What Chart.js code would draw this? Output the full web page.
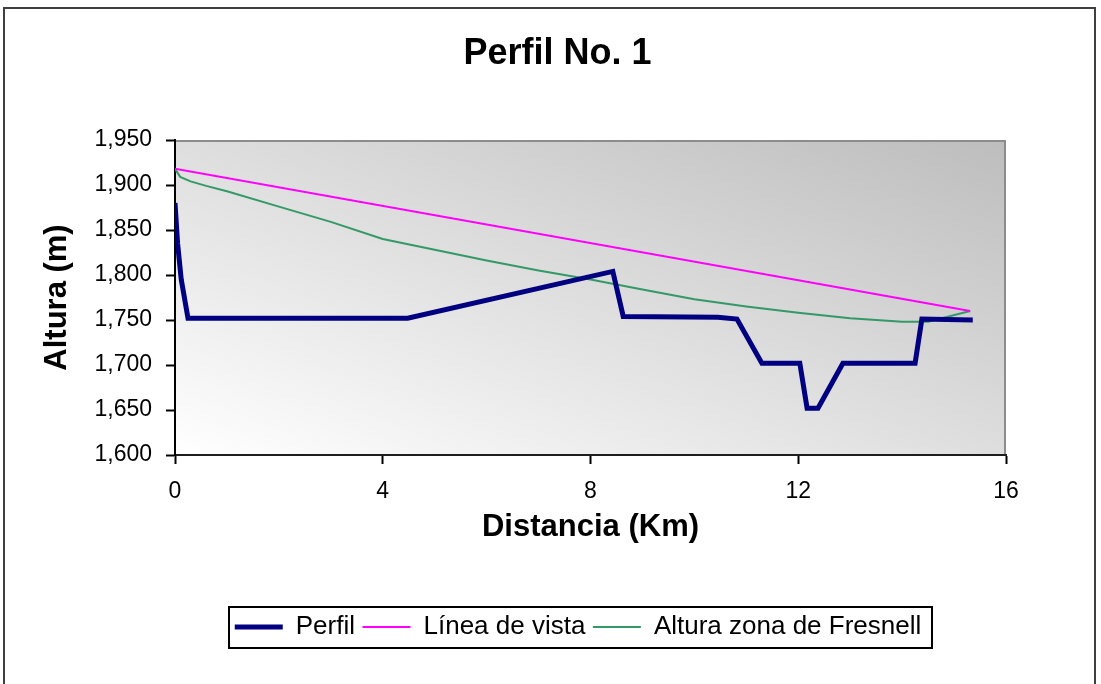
<!DOCTYPE html>
<html>
<head>
<meta charset="utf-8">
<script src="https://cdn.jsdelivr.net/npm/chart.js@4.4.1/dist/chart.umd.min.js"></script>
<style>
  html, body { margin: 0; padding: 0; background: #fff; }
  canvas { display: block; }
</style>
</head>
<body>
<canvas id="perfil" width="1101" height="684"></canvas>
<script>
// Terrain profile (distance in km, height in m)
const perfilKm  = [0, 0.05, 0.12, 0.25, 4.48, 8.43, 8.63, 10.45, 10.82, 11.30, 12.03, 12.17, 12.38, 12.86, 14.25, 14.38, 15.36];
const perfilAlt = [1880, 1835, 1795, 1752, 1752, 1804, 1754, 1753, 1751, 1702, 1702, 1652, 1652, 1702, 1702, 1751, 1750];

// Line of sight between both antennas
const vistaKm  = [0, 15.31];
const vistaAlt = [1918, 1760];

// Height of the Fresnel zone clearance
const fresnelKm  = [0, 0.1, 0.3, 0.6, 1, 2, 3, 4, 5, 6, 7, 8, 9, 10, 11, 12, 13, 14, 14.5, 15.31];
const fresnelAlt = [1918, 1909, 1904, 1899, 1893, 1876, 1859, 1840, 1828, 1816, 1805, 1795, 1784, 1773, 1765, 1758, 1752, 1748, 1748, 1760];

const seriesNames = ['Perfil', 'Línea de vista', 'Altura zona de Fresnell'];
const chartTitle = 'Perfil No. 1';
const xTitle = 'Distancia (Km)';
const yTitle = 'Altura (m)';

const FONT = "'Liberation Sans', Arial, sans-serif";
const pairs = (xs, ys) => xs.map((x, i) => ({ x, y: ys[i] }));

// Background gradient, outer frame, plot border, and legend box
const framePlugin = {
  id: 'frame',
  afterLayout(chart) {
    const t = chart.titleBlock;
    if (t) {
      const dx = 557.5 - (t.left + t.right) / 2;
      t.left += dx; t.right += dx;
    }
    const lg = chart.legend;
    if (lg) {
      const dx = 578 - (lg.left + lg.right) / 2;
      lg.left += dx; lg.right += dx;
      const h = lg.bottom - lg.top;
      lg.top = 606.5; lg.bottom = lg.top + h;
    }
  },
  beforeDraw(chart) {
    const { ctx, chartArea: a } = chart;
    ctx.save();
    ctx.fillStyle = '#ffffff';
    ctx.fillRect(0, 0, chart.width, chart.height);
    ctx.strokeStyle = '#3f3f3f';
    ctx.lineWidth = 2;
    ctx.strokeRect(4, 8, 1091, 700);

    const w = a.right - a.left, h = a.bottom - a.top;
    const cx = (a.left + a.right) / 2, cy = (a.top + a.bottom) / 2;
    const len = Math.hypot(w, h);
    const ux = -h / len, uy = w / len;
    const half = w * h / len;
    const g = ctx.createLinearGradient(cx - ux * half, cy - uy * half, cx + ux * half, cy + uy * half);
    g.addColorStop(0, '#bdbdbd');
    g.addColorStop(1, '#ffffff');
    ctx.fillStyle = g;
    ctx.fillRect(a.left, a.top, w, h);

    ctx.strokeStyle = '#8c8c8c';
    ctx.lineWidth = 2;
    ctx.beginPath();
    ctx.moveTo(a.left, a.top + 1);
    ctx.lineTo(a.right - 1, a.top + 1);
    ctx.lineTo(a.right - 1, a.bottom);
    ctx.stroke();
    ctx.restore();
  },
  afterDraw(chart) {
    const lg = chart.legend;
    if (!lg) return;
    const { ctx } = chart;
    const cx = (lg.left + lg.right) / 2;
    const mid = lg.top + lg.options.labels.padding + lg.options.labels.font.size / 2;
    ctx.save();
    ctx.strokeStyle = '#000';
    ctx.lineWidth = 2;
    ctx.strokeRect(cx - 349, mid - 20, 703, 41);
    ctx.restore();
  }
};

new Chart(document.getElementById('perfil'), {
  type: 'line',
  data: {
    datasets: [
      {
        label: seriesNames[0],
        data: pairs(perfilKm, perfilAlt),
        borderColor: '#000080',
        backgroundColor: '#000080',
        borderWidth: 5,
        pointRadius: 0,
        tension: 0
      },
      {
        label: seriesNames[1],
        data: pairs(vistaKm, vistaAlt),
        borderColor: '#ff00ff',
        backgroundColor: '#ff00ff',
        borderWidth: 2,
        pointRadius: 0,
        tension: 0
      },
      {
        label: seriesNames[2],
        data: pairs(fresnelKm, fresnelAlt),
        borderColor: '#339966',
        backgroundColor: '#339966',
        borderWidth: 2,
        pointRadius: 0,
        tension: 0
      }
    ]
  },
  options: {
    responsive: false,
    animation: false,
    locale: 'en-US',
    layout: { padding: { left: 0, right: 95, top: 0, bottom: 90.5 } },
    plugins: {
      tooltip: { enabled: false },
      title: {
        display: true,
        text: chartTitle,
        color: '#000',
        font: { family: FONT, size: 36, weight: 'bold', lineHeight: 1.2 },
        padding: { top: 32, bottom: 64.8 }
      },
      legend: {
        display: true,
        position: 'bottom',
        labels: {
          color: '#000',
          font: { family: FONT, size: 26 },
          usePointStyle: true,
          pointStyle: 'line',
          pointStyleWidth: 48,
          padding: 7.5
        }
      }
    },
    scales: {
      x: {
        type: 'linear',
        min: 0,
        max: 16,
        afterFit(scale) { scale.height = 95; },
        ticks: {
          stepSize: 4,
          color: '#000',
          padding: 14,
          font: { family: FONT, size: 23 }
        },
        grid: {
          display: true,
          drawOnChartArea: false,
          drawTicks: true,
          tickLength: 9,
          tickWidth: 2,
          tickColor: '#000'
        },
        border: { display: true, color: '#1e1e1e', width: 2 },
        title: {
          display: true,
          text: xTitle,
          color: '#000',
          font: { family: FONT, size: 31, weight: 'bold', lineHeight: 1.2 },
          padding: { top: 2, bottom: 4 }
        }
      },
      y: {
        type: 'linear',
        min: 1600,
        max: 1950,
        afterFit(scale) { scale.width = 175; },
        ticks: {
          stepSize: 50,
          color: '#000',
          padding: 14,
          font: { family: FONT, size: 23 }
        },
        grid: {
          display: true,
          drawOnChartArea: false,
          drawTicks: true,
          tickLength: 9,
          tickWidth: 2,
          tickColor: '#000'
        },
        border: { display: true, color: '#000', width: 2 },
        title: {
          display: true,
          text: yTitle,
          color: '#000',
          font: { family: FONT, size: 31, weight: 'bold', lineHeight: 1.2 },
          padding: { top: 38.4, bottom: 0 }
        }
      }
    }
  },
  plugins: [framePlugin]
});
</script>
</body>
</html>
